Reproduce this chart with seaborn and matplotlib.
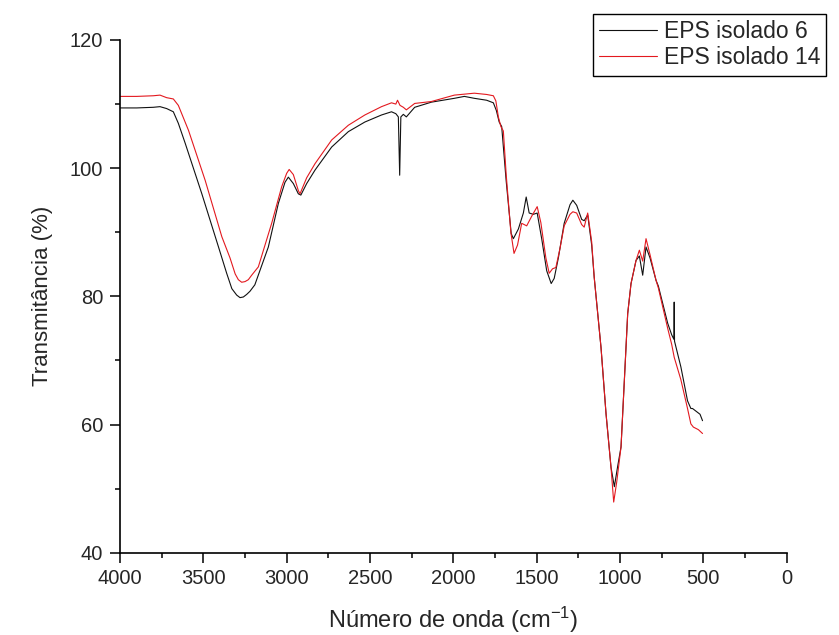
import numpy as np
import pandas as pd
import matplotlib
matplotlib.use("Agg")
import matplotlib.pyplot as plt
from matplotlib.ticker import MultipleLocator
import seaborn as sns

# ── Spectra (wavenumber cm-1, transmittance %) ────────────────────────────────
wn_6 = [4000, 3900, 3800, 3760, 3720, 3680, 3650, 3609, 3509, 3409, 3360, 3329, 3300,
        3280, 3260, 3240, 3220, 3191, 3110, 3050, 3010, 2990, 2960, 2930, 2915, 2880,
        2830, 2730, 2630, 2531, 2431, 2371, 2345, 2330, 2322, 2315, 2300, 2282, 2232,
        2132, 1994, 1934, 1874, 1800, 1760, 1742, 1725, 1710, 1683, 1653, 1640, 1610,
        1580, 1563, 1545, 1520, 1497, 1470, 1440, 1413, 1395, 1370, 1335, 1300,
        1283, 1260, 1230, 1215, 1194, 1170, 1155, 1114, 1084, 1054, 1034, 1014,
        994, 974, 954, 934, 904, 884, 864, 844, 820, 784, 770, 714, 690, 677,
        675, 673, 635, 595, 575, 565, 540, 520, 505]
t_6 = [109.4, 109.4, 109.5, 109.6, 109.3, 108.8, 107.0, 103.9, 96.0, 87.7, 83.6, 81.2, 80.2,
       79.8, 79.9, 80.3, 80.8, 81.8, 87.7, 94.5, 97.8, 98.6, 97.6, 96.0, 95.8, 97.6,
       99.7, 103.3, 105.7, 107.2, 108.3, 108.8, 108.5, 108.0, 98.9, 108.0, 108.4, 108.0, 109.5,
       110.3, 110.9, 111.2, 110.9, 110.6, 110.2, 109.0, 107.2, 106.5, 98.0, 89.8, 89.0, 90.5,
       93.0, 95.5, 93.0, 92.8, 93.0, 89.0, 84.0, 82.0, 82.8, 86.0, 91.4, 94.3,
       95.0, 94.2, 92.0, 91.8, 92.7, 88.0, 83.0, 72.0, 61.7, 53.3, 50.3, 53.5,
       56.5, 66.9, 77.3, 82.0, 85.6, 86.3, 83.3, 87.7, 86.0, 82.5, 81.6, 75.8, 74.0, 73.3,
       79.1, 73.0, 69.0, 63.7, 62.5, 62.5, 62.0, 61.6, 60.6]

wn_14 = [4000, 3900, 3800, 3760, 3720, 3680, 3650, 3589, 3489, 3389, 3340, 3309, 3290,
         3270, 3250, 3230, 3210, 3170, 3090, 3030, 3000, 2985, 2960, 2930, 2920, 2880,
         2830, 2730, 2630, 2531, 2431, 2371, 2345, 2335, 2320, 2300, 2282, 2232, 2132,
         1994, 1874, 1800, 1760, 1745, 1730, 1715, 1700, 1683, 1655, 1636, 1615, 1590,
         1560, 1530, 1497, 1475, 1445, 1425, 1405, 1385, 1360, 1335, 1300, 1283,
         1260, 1230, 1215, 1194, 1170, 1155, 1114, 1084, 1054, 1038, 1020, 994,
         974, 954, 934, 904, 884, 864, 844, 820, 784, 770, 714, 690, 675, 635,
         595, 575, 560, 530, 505]
t_14 = [111.2, 111.2, 111.3, 111.4, 111.0, 110.8, 109.8, 105.9, 98.1, 89.3, 86.0, 83.5, 82.6,
        82.2, 82.3, 82.6, 83.3, 84.6, 91.4, 97.1, 99.2, 99.8, 99.0, 96.5, 96.0, 98.5,
        100.7, 104.4, 106.7, 108.3, 109.6, 110.2, 110.0, 110.6, 109.8, 109.5, 109.1, 110.1, 110.4,
        111.4, 111.7, 111.5, 111.3, 110.5, 108.0, 106.5, 105.8, 99.0, 90.0, 86.7, 88.0, 91.4,
        91.0, 92.5, 94.0, 91.5, 86.0, 83.6, 84.3, 84.5, 87.5, 91.0, 92.8, 93.2,
        93.0, 91.2, 90.8, 93.0, 88.5, 83.0, 72.0, 61.7, 53.3, 47.9, 51.0, 56.5,
        66.9, 77.3, 82.0, 85.6, 87.2, 85.5, 89.0, 86.5, 82.5, 81.3, 75.0, 72.5, 70.5, 67.0,
        62.5, 60.1, 59.6, 59.2, 58.6]

labels = ["EPS isolado 6", "EPS isolado 14"]

df = pd.concat([
    pd.DataFrame({"wn": wn_6, "T": t_6, "amostra": labels[0]}),
    pd.DataFrame({"wn": wn_14, "T": t_14, "amostra": labels[1]}),
], ignore_index=True)

# ── Style ─────────────────────────────────────────────────────────────────────
sns.set_style("ticks")
plt.rcParams["font.family"] = ["Liberation Sans", "DejaVu Sans"]
plt.rcParams["mathtext.fontset"] = "custom"
plt.rcParams["mathtext.rm"] = "Liberation Sans"
plt.rcParams["mathtext.it"] = "Liberation Sans:italic"

PALETTE = {labels[0]: "#111111", labels[1]: "#e3191f"}

fig = plt.figure(figsize=(8.39, 6.35), dpi=100)
ax = fig.add_axes([120 / 839, 1 - 552.7 / 635, 666.7 / 839, 512.7 / 635])

sns.lineplot(data=df, x="wn", y="T", hue="amostra", palette=PALETTE,
             sort=False, estimator=None, linewidth=0.8, ax=ax)

ax.set_xlim(4000, 0)
ax.set_ylim(40, 120)
ax.xaxis.set_major_locator(MultipleLocator(500))
ax.xaxis.set_minor_locator(MultipleLocator(250))
ax.yaxis.set_major_locator(MultipleLocator(20))
ax.yaxis.set_minor_locator(MultipleLocator(10))

for side in ["top", "right"]:
    ax.spines[side].set_visible(False)
for side in ["left", "bottom"]:
    ax.spines[side].set_linewidth(1.2)
    ax.spines[side].set_color("black")

ax.tick_params(which="major", direction="out", length=7, width=1.1,
               color="black", labelsize=14.5, pad=5)
ax.tick_params(which="minor", direction="out", length=3.6, width=1.1, color="black")

ax.set_xlabel("Número de onda (cm$^{\\mathregular{-1}}$)", fontsize=17, labelpad=12)
ax.set_ylabel("Transmitância (%)", fontsize=16, labelpad=12)

handles, _ = ax.get_legend_handles_labels()
leg = ax.legend(handles, labels, loc="upper left",
                bbox_to_anchor=(593 / 839, 1 - 14 / 635),
                bbox_transform=fig.transFigure, borderaxespad=0,
                fontsize=16.5, frameon=True, fancybox=False, framealpha=1,
                edgecolor="black", handlelength=2.5, handletextpad=0.3,
                labelspacing=0.12, borderpad=0.28)
leg.get_frame().set_linewidth(1.0)
for h in leg.get_lines():
    h.set_linewidth(0.8)

fig.savefig("out.png", dpi=100)
